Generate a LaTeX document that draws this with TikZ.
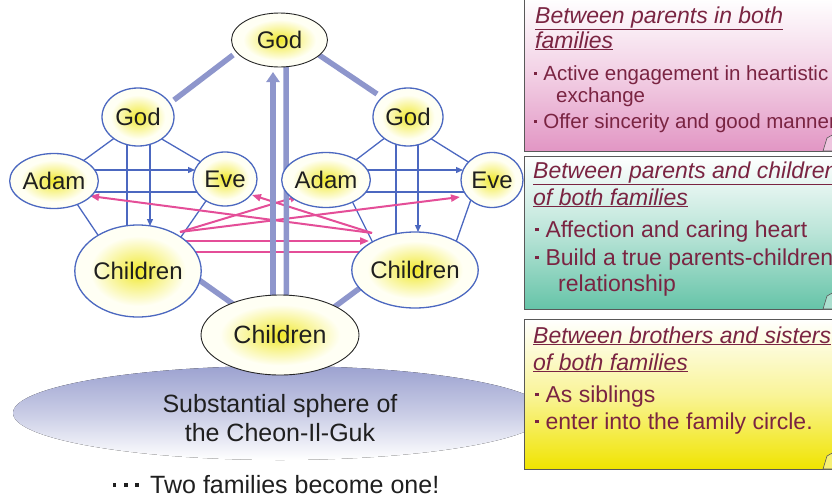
\documentclass[tikz,border=0pt]{standalone}
\usepackage{fontspec}
\setmainfont{Liberation Sans}
\usetikzlibrary{shapes.geometric,arrows.meta,calc,backgrounds}
\definecolor{famblue}{RGB}{76,104,192}
\definecolor{lavender}{RGB}{142,150,204}
\definecolor{pinkline}{RGB}{228,78,152}
\definecolor{maroon}{RGB}{122,36,66}
\definecolor{yel}{RGB}{240,232,40}
\definecolor{cream}{RGB}{255,255,244}
\definecolor{pinkbox}{RGB}{226,150,196}
\definecolor{greenbox}{RGB}{102,196,168}
\definecolor{yellowbox}{RGB}{240,228,0}
\definecolor{spherecol}{RGB}{156,162,208}
\pgfdeclareradialshading{nodeglow}{\pgfpoint{0bp}{0bp}}{color(0bp)=(yel); color(7bp)=(yel!60!cream); color(19bp)=(cream); color(50bp)=(cream)}
\newcommand{\bul}{\makebox[0.45em][l]{\rule[0.26em]{0.15em}{0.15em}}}
\begin{document}
\begin{tikzpicture}[x=1pt,y=-1pt,
  every node/.style={inner sep=0pt, text=black!88},
  fam/.style={ellipse, draw=famblue, line width=1.3pt, shading=nodeglow, font=\fontsize{24}{24}\selectfont},
  bigfam/.style={fam, draw=black!85, line width=0.9pt},
  famline/.style={draw=famblue, line width=1.3pt},
  famarr/.style={famline, -{Triangle[length=7pt,width=6pt]}},
  thickline/.style={draw=lavender, line width=5.5pt},
  pinkarr/.style={draw=pinkline, line width=2pt, -{Triangle[length=9pt,width=7pt]}},
  pinkln/.style={draw=pinkline, line width=2pt},
  boxframe/.style={draw=black!65, line width=0.8pt},
  titletxt/.style={anchor=base west, text=maroon, font=\fontsize{23}{23}\selectfont\itshape},
  bultxt/.style={anchor=base west, text=maroon, font=\fontsize{23}{23}\selectfont},
  smallbul/.style={anchor=base west, text=maroon, font=\fontsize{20.5}{20.5}\selectfont},
  fold/.style={draw=black!65, line width=0.6pt},
  sphtxt/.style={anchor=base, font=\fontsize{25}{25}\selectfont}
]
\useasboundingbox (0,0) rectangle (832,498);
\clip (0,0) rectangle (832,498);

% nodes
\node[bigfam, minimum width=96pt, minimum height=54pt] (TG) at (279.5,40) {God};
\node[fam, minimum width=72pt, minimum height=58pt] (LG) at (138,117) {God};
\node[fam, minimum width=70pt, minimum height=58pt] (RG) at (408,117) {God};
\node[fam, minimum width=68pt, minimum height=55pt] (LA) at (54,181) {Adam};
\node[fam, minimum width=64pt, minimum height=54pt] (LE) at (225,179) {Eve};
\node[fam, minimum width=66pt, minimum height=55pt] (RA) at (326,180) {Adam};
\node[fam, minimum width=62pt, minimum height=55pt] (RE) at (492,180) {Eve};
\node[fam, minimum width=110pt, minimum height=92pt] (LC) at (138,271) {Children};
\node[fam, minimum width=122pt, minimum height=76pt] (RC) at (415,270) {Children};
\node[bigfam, minimum width=158pt, minimum height=80pt, font=\fontsize{25}{25}\selectfont] (BC) at (280,335) {Children};

\begin{pgfonlayer}{background}
  % sphere
  \fill[top color=spherecol, bottom color=white, middle color=spherecol!55] (280,413) ellipse [x radius=267, y radius=47];
  % left family
  \draw[famline] ($(LG.center)+(-18,17)$) -- ($(LA.center)+(18,-12)$);
  \draw[famline] ($(LG.center)+(17,18)$) -- ($(LE.center)+(-14,-11)$);
  \draw[famline] ($(LA.center)+(17,14)$) -- ($(LC.center)+(-32,-24)$);
  \draw[famline] ($(LE.center)+(-17,19)$) -- ($(LC.center)+(36,-24)$);
  \draw[famarr] ($(LA.center)+(0,-11)$) -- ($(LE.center)+(-30,-9)$);
  \draw[famline] ($(LA.center)+(0,11)$) -- ($(LE.center)+(0,13)$);
  \draw[famline] ($(LG.center)+(-11,0)$) -- ($(LC.center)+(-11,0)$);
  \draw[famarr] ($(LG.center)+(12,0)$) -- ($(LC.center)+(12,-45)$);
  % right family
  \draw[famline] ($(RG.center)+(-18,17)$) -- ($(RA.center)+(18,-11)$);
  \draw[famline] ($(RG.center)+(17,18)$) -- ($(RE.center)+(-14,-12)$);
  \draw[famline] ($(RA.center)+(19,7)$) -- ($(RC.center)+(-40,-23)$);
  \draw[famline] ($(RE.center)+(-17,8)$) -- ($(RC.center)+(40,-25)$);
  \draw[famarr] ($(RA.center)+(0,-10)$) -- ($(RE.center)+(-29,-10)$);
  \draw[famline] ($(RA.center)+(0,12)$) -- ($(RE.center)+(0,12)$);
  \draw[famline] ($(RG.center)+(-12,0)$) -- ($(RC.center)+(-19,0)$);
  \draw[famarr] ($(RG.center)+(10,0)$) -- ($(RC.center)+(3,-38)$);
  % pink arrows
  \draw[pinkarr] ($(LC.center)+(42,-39)$) -- ($(RA.center)+(-27,16)$);
  \draw[pinkarr] ($(LC.center)+(42,-39)$) -- ($(RE.center)+(-32,17)$);
  \draw[pinkarr] ($(RC.center)+(-43,-37)$) -- ($(LA.center)+(36,15)$);
  \draw[pinkarr] ($(RC.center)+(-43,-37)$) -- ($(LE.center)+(27,16)$);
  \draw[pinkarr] ($(LC.center)+(47,-30)$) -- ($(RC.center)+(-46,-29)$);
  \draw[pinkln] ($(LC.center)+(52,-19)$) -- ($(RC.center)+(-45,-18)$);
  % thick connectors
  \draw[thickline] ($(TG.center)+(-46.5,15)$) -- ($(LG.center)+(36,-17)$);
  \draw[thickline] ($(TG.center)+(39.5,15)$) -- ($(RG.center)+(-31,-23)$);
  \draw[thickline] ($(LC.center)+(47,-1)$) -- ($(BC.center)+(-40,-26)$);
  \draw[thickline] ($(RC.center)+(-47,12)$) -- ($(BC.center)+(49,-24)$);
  \draw[thickline, -{Triangle[length=10pt,width=13pt]}] ($(BC.center)+(-7,0)$) -- ($(TG.center)+(-6.5,32)$);
  \draw[thickline] ($(BC.center)+(6.5,0)$) -- ($(TG.center)+(6.5,0)$);
\end{pgfonlayer}

% sphere text
\node[sphtxt] (s1) at (280,412) {Substantial sphere of};
\node[sphtxt] (s2) at (280,441) {the Cheon-Il-Guk};
\node[sphtxt] (bottom) at (276,493) {\bul\bul\bul\hspace{0.15em}Two families become one!};

% boxes
\path[boxframe, top color=white, bottom color=pinkbox, middle color=pinkbox!45] (524,-2) rectangle (845,151);
\path[boxframe, top color=white, bottom color=greenbox, middle color=greenbox!45] (524,156) rectangle (845,309);
\path[boxframe, top color=white, bottom color=yellowbox, middle color=yellowbox!40] (524,319) rectangle (845,469);
\filldraw[fold, fill=pinkbox!55] (823,151) -- (827,138) -- (834,134) -- (834,151) -- cycle;
\filldraw[fold, fill=greenbox!55] (823,309) -- (827,296) -- (834,292) -- (834,309) -- cycle;
\filldraw[fold, fill=yellowbox!55] (823,469) -- (827,456) -- (834,452) -- (834,469) -- cycle;

% box 1 text
\node[titletxt] (b1a) at (535,23) {\underline{Between parents in both}};
\node[titletxt] (b1b) at (535,48) {\underline{families}};
\node[smallbul] (b1c) at (534,80) {\bul Active engagement in heartistic};
\node[smallbul] (b1d) at (556,102) {exchange};
\node[smallbul] (b1e) at (534,128) {\bul Offer sincerity and good manners};
% box 2 text
\node[titletxt] (b2a) at (533,178) {\underline{Between parents and children}};
\node[titletxt] (b2b) at (533,205) {\underline{of both families}};
\node[bultxt] (b2c) at (535,237) {\bul Affection and caring heart};
\node[bultxt] (b2d) at (535,265) {\bul Build a true parents-children};
\node[bultxt] (b2e) at (558,291) {relationship};
% box 3 text
\node[titletxt] (b3a) at (533,343) {\underline{Between brothers and sisters}};
\node[titletxt] (b3b) at (533,370) {\underline{of both families}};
\node[bultxt] (b3c) at (535,402) {\bul As siblings};
\node[bultxt] (b3d) at (535,429) {\bul enter into the family circle.};
\end{tikzpicture}
\end{document}
